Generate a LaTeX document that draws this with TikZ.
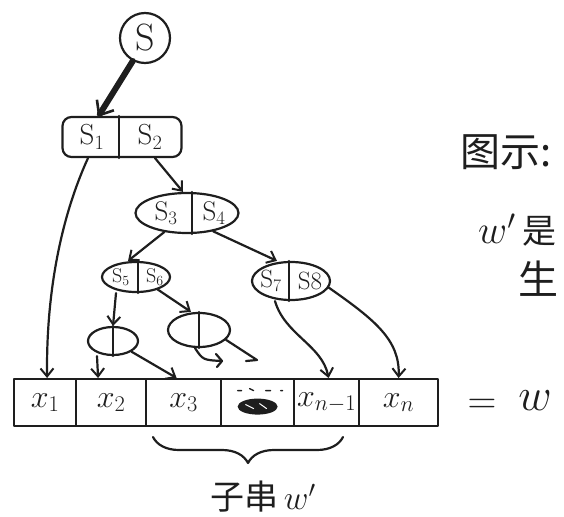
\documentclass[tikz,border=0pt]{standalone}
\usepackage{fix-cm}
\usepackage{fontspec}
\newfontfamily\cjk{Noto Sans CJK SC}
\usetikzlibrary{arrows.meta,shapes.geometric,decorations.pathreplacing,calc}
\definecolor{inkc}{HTML}{1E1E1E}
\begin{document}
\begin{tikzpicture}[x=1pt,y=-1pt,line cap=round,line join=round,
  ink/.style={draw=inkc,line width=2.2pt},
  arr/.style={ink,-{Straight Barb[length=8pt,width=13pt,line width=2pt]}},
  splitnode/.style={ink,ellipse,inner sep=0pt},
  lbl/.style={text=inkc,inner sep=0pt},
  cell/.style={ink,rectangle,minimum height=47pt,inner sep=0pt,anchor=north west,text=inkc,font=\fontsize{32}{36}\selectfont}]
\useasboundingbox (0,0) rectangle (564,516);
\clip (0,0) rectangle (564,516);

% root
\node[ink,circle,minimum size=50pt,inner sep=0pt,text=inkc,font=\fontsize{38}{40}\selectfont] (s) at (145,38) {$\mathrm{S}$};

% S1|S2
\node[ink,rectangle,rounded corners=9pt,minimum width=119pt,minimum height=40pt,inner sep=0pt] (s12) at (122,137) {};
\draw[ink] ([xshift=-3pt]s12.north) -- ([xshift=-3pt]s12.south);
\node[lbl,font=\fontsize{29}{31}\selectfont] (t1) at (92,137) {$\mathrm{S}_1$};
\node[lbl,font=\fontsize{29}{31}\selectfont] (t2) at (150,137) {$\mathrm{S}_2$};

% S3|S4
\node[splitnode,minimum width=103pt,minimum height=40pt] (s34) at (187,213) {};
\draw[ink] ([xshift=5pt]s34.north) -- ([xshift=5pt]s34.south);
\node[lbl,font=\fontsize{27}{29}\selectfont] (t3) at (166,213) {$\mathrm{S}_3$};
\node[lbl,font=\fontsize{27}{29}\selectfont] (t4) at (214,213) {$\mathrm{S}_4$};

% S5|S6
\node[splitnode,minimum width=68pt,minimum height=30pt] (s56) at (136,277) {};
\draw[ink] ([xshift=2pt]s56.north) -- ([xshift=2pt]s56.south);
\node[lbl,font=\fontsize{20}{22}\selectfont] (t5) at (121,277) {$\mathrm{S}_5$};
\node[lbl,font=\fontsize{20}{22}\selectfont] (t6) at (155,277) {$\mathrm{S}_6$};

% S7|S8
\node[splitnode,minimum width=78pt,minimum height=38pt] (s78) at (291,281) {};
\draw[ink] ([xshift=-2pt]s78.north) -- ([xshift=-2pt]s78.south);
\node[lbl,font=\fontsize{25}{27}\selectfont] (t7) at (271,281) {$\mathrm{S}_7$};
\node[lbl,font=\fontsize{25}{27}\selectfont] (t8) at (310,281) {$\mathrm{S8}$};

% empty split nodes
\node[splitnode,minimum width=50pt,minimum height=28pt] (na) at (113,341) {};
\draw[ink] (na.north) -- (na.south);
\node[splitnode,minimum width=62pt,minimum height=34pt] (nb) at (199,330) {};
\draw[ink] (nb.north) -- (nb.south);

% cells
\node[cell,minimum width=62pt] (c1) at (13,378) {$x_1$};
\node[cell,minimum width=70pt] (c2) at (75,378) {$x_2$};
\node[cell,minimum width=75pt] (c3) at (145,378) {$x_3$};
\node[cell,minimum width=73pt] (c4) at (220,378) {};
\node[cell,minimum width=65pt] (c5) at (293,378) {$x_{n-1}$};
\node[cell,minimum width=79pt] (c6) at (358,378) {$x_n$};
% scribble in cell 4
\fill[inkc] ($(c4.center)+(0,4)$) ellipse [x radius=20pt, y radius=8pt];
\draw[white,line width=1pt] ($(c4.center)+(-12,2)$) -- ($(c4.center)+(-4,6)$) ($(c4.center)+(2,1)$) -- ($(c4.center)+(9,6)$);
\draw[inkc,line width=1.4pt] ($(c4.center)+(-20,-12)$) -- ($(c4.center)+(-16,-12)$)
  ($(c4.center)+(-8,-14)$) -- ($(c4.center)+(-4,-12)$)
  ($(c4.center)+(8,-12)$) -- ($(c4.center)+(13,-12)$)
  ($(c4.center)+(23,-12)$) -- ($(c4.center)+(25,-12)$);

% connectors
\draw[inkc,line width=6pt,-{Straight Barb[length=12pt,width=20pt,line width=2.6pt]}] (s.-118) -- ([xshift=-24pt,yshift=-1pt]s12.north);
\draw[arr] ([xshift=33pt]s12.south) -- ([xshift=-4pt]s34.north);
\draw[arr] ([xshift=-34pt]s12.south) .. controls (62,215) and (46,290) .. ([xshift=2pt]c1.north);
\draw[arr] (s34.-140) -- ([xshift=-8pt]s56.north);
\draw[arr] (s34.-35) -- ([xshift=-14pt]s78.north);
\draw[arr] ([xshift=-20pt]s56.south) -- (na.north);
\draw[arr] (s56.-30) -- ([xshift=-8pt]nb.north);
\draw[arr] ([xshift=-16pt]na.south) -- ([xshift=-13pt]c2.north);
\draw[arr] (na.-30) -- ([xshift=-7pt]c3.north);
\draw[arr] ([xshift=-16pt]s78.south) .. controls (285,335) and (322,345) .. ([xshift=2pt]c5.north);
\draw[arr] (s78.-10) .. controls (375,320) and (400,340) .. ([xshift=0pt]c6.north);

% trailing strokes from the right empty node
\coordinate (e1) at (222,361);
\coordinate (e2) at (257,360);
\draw[ink] ([xshift=-4pt]nb.south) .. controls (203,360) .. (e1);
\draw[ink] (216,354) -- (e1) -- (217,367);
\draw[ink] (nb.-20) -- (e2) -- (246,361);

% right side
\node[lbl,font=\fontsize{40}{44}\selectfont] (eq) at (482,406) {$=$};
\node[lbl,font=\fontsize{46}{50}\selectfont] (w) at (535,401) {$w$};

% brace
\draw[ink,decorate,decoration={brace,mirror,amplitude=26pt}] (153,437) -- (343,437);
\node[lbl,font=\fontsize{34}{38}\selectfont] (sub) at (263,497) {{\cjk 子串}$\,w'$};

% caption
\node[lbl,anchor=west,font=\cjk\fontsize{40}{44}\selectfont] (cap1) at (460,152) {图示:};
\node[lbl,anchor=west,font=\fontsize{40}{44}\selectfont] (cap2) at (478,230) {$w'\,${\cjk\fontsize{34}{38}\selectfont 是}};
\node[lbl,anchor=west,font=\cjk\fontsize{40}{44}\selectfont] (cap3) at (518,279) {生};
\end{tikzpicture}
\end{document}
